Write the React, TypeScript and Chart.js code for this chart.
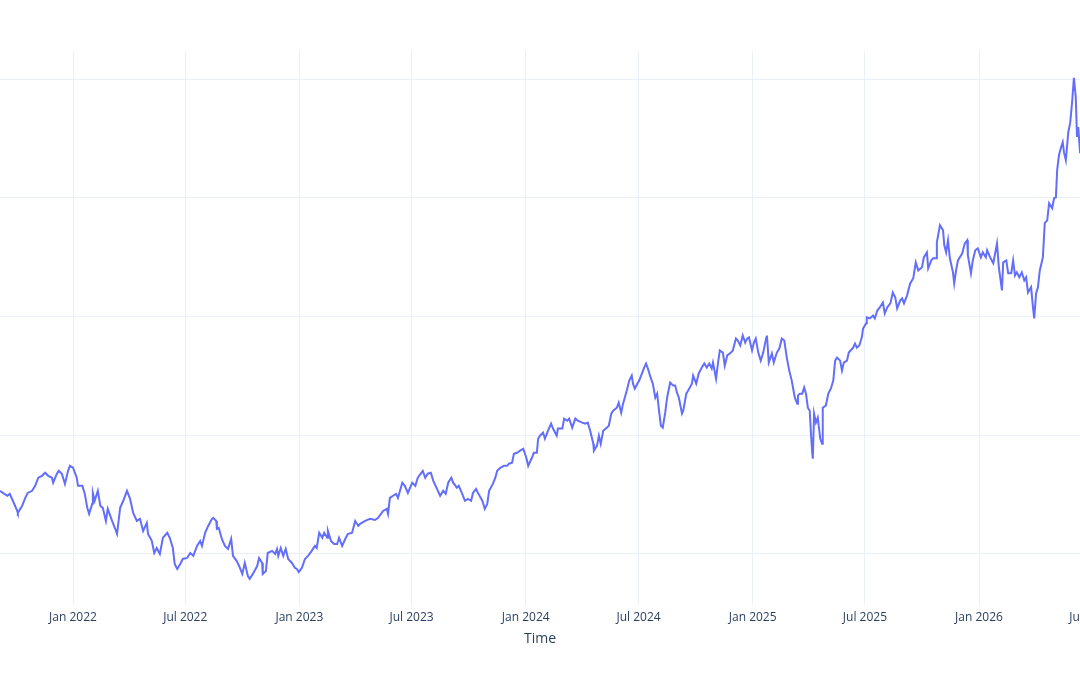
import React, { useEffect, useRef } from 'react';
import { Chart, registerables } from 'chart.js';

Chart.register(...registerables);

// Time values are day offsets from this date
const seriesEpoch = '2022-01-01';

const dayOffsets = [
  -118, -113, -106, -102, -97, -90, -89, -82, -77, -73, -66, -61, -56, -50, -45, -40, -34, -32, -26, -23,
  -18, -13, -8, -5, 0, 6, 8, 15, 19, 23, 26, 31, 32, 35, 40, 44, 48, 53, 56, 63,
  68, 71, 76, 81, 87, 92, 97, 103, 108, 113, 119, 121, 127, 131, 135, 140, 145, 152, 156, 161,
  164, 168, 173, 177, 184, 189, 194, 200, 205, 208, 213, 218, 224, 226, 231, 232, 235, 240, 245, 250,
  255, 258, 264, 268, 273, 277, 282, 285, 290, 297, 300, 305, 306, 311, 314, 321, 326, 329, 331, 335,
  339, 343, 347, 353, 358, 361, 364, 369, 374, 379, 385, 390, 393, 397, 402, 405, 410, 411, 416, 421,
  426, 429, 434, 439, 443, 450, 455, 460, 463, 471, 479, 487, 492, 500, 506, 508, 511, 516, 521, 524,
  531, 535, 540, 547, 552, 556, 564, 568, 572, 577, 581, 587, 592, 597, 601, 605, 610, 613, 619, 622,
  627, 632, 637, 642, 645, 650, 653, 660, 664, 668, 671, 677, 681, 684, 689, 695, 700, 703, 708, 711,
  716, 721, 726, 731, 734, 740, 743, 748, 750, 753, 758, 761, 766, 771, 774, 780, 782, 789, 792, 797,
  800, 805, 810, 814, 821, 826, 830, 834, 839, 840, 845, 848, 851, 855, 861, 864, 868, 871, 877, 880,
  884, 887, 893, 897, 901, 903, 906, 910, 913, 918, 921, 924, 927, 932, 935, 939, 942, 945, 948, 951,
  955, 958, 963, 968, 971, 974, 977, 982, 984, 989, 992, 998, 1000, 1005, 1009, 1014, 1018, 1022, 1026, 1030,
  1032, 1037, 1040, 1043, 1048, 1051, 1055, 1061, 1064, 1069, 1072, 1076, 1080, 1084, 1087, 1090, 1095, 1098, 1101, 1105,
  1109, 1113, 1118, 1119, 1122, 1127, 1130, 1135, 1139, 1143, 1147, 1151, 1155, 1159, 1161, 1164, 1168, 1169, 1172, 1176,
  1179, 1182, 1185, 1188, 1190, 1192, 1193, 1195, 1198, 1201, 1205, 1208, 1209, 1214, 1218, 1222, 1226, 1229, 1232, 1237,
  1240, 1243, 1248, 1251, 1258, 1261, 1264, 1268, 1272, 1274, 1279, 1280, 1285, 1290, 1293, 1297, 1301, 1306, 1309, 1313,
  1318, 1322, 1326, 1329, 1334, 1337, 1340, 1345, 1350, 1355, 1359, 1363, 1369, 1372, 1377, 1379, 1384, 1387, 1392, 1393,
  1398, 1403, 1405, 1408, 1411, 1414, 1419, 1421, 1424, 1427, 1434, 1438, 1442, 1443, 1448, 1451, 1455, 1459, 1464, 1467,
  1472, 1474, 1479, 1484, 1487, 1490, 1493, 1498, 1500, 1505, 1508, 1513, 1516, 1519, 1522, 1526, 1530, 1534, 1537, 1540,
  1545, 1548, 1550, 1553, 1556, 1559, 1564, 1567, 1571, 1574, 1579, 1582, 1585, 1587, 1590, 1593, 1596, 1598, 1601, 1605,
  1608, 1611, 1614, 1617, 1619, 1621, 1624,
];

const values = [
  126.6, 125.7, 124.5, 125.3, 122.4, 118.1, 117.3, 120.3, 123.6, 125.7, 126.6, 128.7, 132.1, 132.9, 134.2, 132.9, 132.1, 130.0, 133.8, 135.0,
  133.8, 129.5, 135.0, 137.1, 136.3, 132.1, 128.7, 128.7, 125.3, 119.4, 116.9, 121.1, 125.7, 122.4, 126.6, 120.3, 119.4, 113.9, 119.0, 113.9,
  110.6, 108.4, 119.4, 122.4, 126.6, 123.2, 117.3, 113.9, 114.8, 109.7, 113.1, 108.4, 105.5, 100.4, 102.5, 100.0, 106.8, 108.9, 106.8, 102.5,
  95.8, 93.7, 95.8, 97.9, 98.3, 100.4, 99.2, 103.4, 105.5, 103.4, 108.9, 111.8, 114.8, 115.2, 113.9, 110.6, 111.0, 106.3, 103.4, 102.1,
  106.3, 99.2, 97.0, 94.9, 91.6, 96.2, 90.7, 89.5, 91.6, 94.9, 98.3, 96.2, 91.6, 92.8, 100.4, 101.3, 100.0, 102.1, 99.2, 102.5,
  99.2, 102.1, 97.9, 96.2, 94.1, 93.7, 92.4, 94.1, 97.9, 99.2, 101.3, 103.4, 102.5, 108.9, 106.8, 108.9, 106.8, 109.7, 105.5, 104.2,
  104.2, 106.8, 103.4, 106.3, 108.4, 108.9, 113.9, 111.8, 112.7, 113.9, 114.8, 114.3, 115.2, 118.1, 119.0, 116.9, 123.6, 124.5, 125.3, 123.6,
  130.0, 128.7, 125.7, 130.0, 128.7, 132.1, 135.0, 132.1, 133.8, 134.2, 130.8, 127.4, 124.5, 126.6, 125.3, 130.0, 132.1, 130.0, 127.9, 128.7,
  125.7, 122.4, 123.2, 122.4, 125.7, 127.4, 125.7, 122.4, 119.0, 121.1, 126.6, 129.5, 132.1, 135.0, 136.3, 137.1, 137.1, 138.0, 138.4, 142.2,
  142.6, 143.5, 144.3, 140.5, 137.1, 140.5, 142.6, 142.6, 148.5, 149.8, 151.1, 148.5, 151.9, 154.9, 152.8, 149.8, 152.8, 152.8, 157.0, 156.1,
  157.0, 153.2, 157.0, 156.1, 155.3, 154.9, 155.3, 151.9, 146.4, 143.5, 145.6, 149.8, 146.4, 151.9, 153.2, 154.0, 159.1, 160.3, 161.6, 163.7,
  159.5, 163.3, 168.8, 173.0, 175.1, 171.7, 169.6, 171.7, 173.0, 176.4, 178.5, 180.2, 178.1, 173.8, 171.7, 165.8, 167.5, 160.3, 154.0, 153.2,
  159.5, 165.8, 172.2, 170.9, 170.9, 167.9, 165.8, 159.1, 160.3, 167.5, 168.8, 171.7, 175.1, 171.7, 176.0, 178.5, 180.2, 178.5, 180.2, 178.1,
  180.6, 173.8, 180.2, 185.7, 184.8, 179.3, 183.6, 184.8, 185.7, 190.7, 189.9, 187.8, 192.0, 189.0, 190.7, 191.2, 185.7, 189.0, 190.7, 184.8,
  181.4, 184.8, 191.2, 192.0, 180.6, 184.4, 180.6, 184.8, 186.5, 190.7, 189.9, 182.7, 177.2, 173.0, 170.1, 165.8, 163.3, 166.7, 167.5, 167.5,
  170.1, 167.5, 161.6, 160.3, 150.6, 142.6, 140.1, 159.1, 155.3, 157.4, 148.5, 146.4, 161.6, 162.5, 167.5, 169.6, 173.0, 181.4, 182.7, 181.4,
  177.2, 180.6, 181.4, 184.8, 186.9, 188.6, 186.9, 187.8, 191.2, 194.9, 197.1, 199.6, 199.2, 200.4, 199.2, 202.5, 203.8, 205.9, 201.3, 203.8,
  205.5, 210.1, 208.0, 203.4, 206.8, 207.6, 205.5, 208.9, 213.9, 216.1, 222.8, 219.4, 220.7, 224.9, 227.0, 220.3, 223.6, 224.5, 224.5, 231.2,
  238.4, 236.3, 230.0, 227.0, 232.1, 224.5, 218.6, 213.9, 219.4, 223.6, 226.6, 230.8, 232.1, 225.8, 218.2, 223.6, 227.9, 228.7, 224.9, 227.0,
  224.9, 227.9, 224.9, 222.4, 226.6, 230.8, 220.7, 211.0, 222.8, 223.6, 218.2, 218.2, 223.6, 217.3, 218.6, 216.5, 218.6, 215.2, 216.5, 210.1,
  212.3, 203.8, 199.2, 209.7, 212.3, 219.4, 224.9, 239.3, 240.5, 247.7, 245.6, 249.8, 250.2, 261.6, 268.0, 270.9, 273.4, 269.2, 265.8, 277.7,
  281.5, 289.9, 300.5, 292.4, 275.6, 279.8, 268.8,
];

const tickDates = [
  '2022-01-01', '2022-07-01', '2023-01-01', '2023-07-01', '2024-01-01',
  '2024-07-01', '2025-01-01', '2025-07-01', '2026-01-01', '2026-07-01',
];
const tickLabels = [
  'Jan 2022', 'Jul 2022', 'Jan 2023', 'Jul 2023', 'Jan 2024',
  'Jul 2024', 'Jan 2025', 'Jul 2025', 'Jan 2026', 'Jul 2026',
];
const gridValues = [100, 150, 200, 250, 300];
const xAxisTitle = 'Time';

const DAY_MS = 86400000;
const toDay = (iso: string) => Math.round((Date.parse(iso) - Date.parse(seriesEpoch)) / DAY_MS);

const TEXT = '#2a3f5f';
const GRID = '#ebf0f8';
const LINE = '#636efa';
const FONT = '"Open Sans", verdana, arial, sans-serif';

export default function App() {
  const ref = useRef<HTMLCanvasElement | null>(null);

  useEffect(() => {
    if (!ref.current) return;
    const tickDays = tickDates.map(toDay);
    const chart = new Chart(ref.current, {
      type: 'line',
      data: {
        datasets: [
          {
            data: dayOffsets.map((d, i) => ({ x: d, y: values[i] })),
            borderColor: LINE,
            borderWidth: 2,
            pointRadius: 0,
            tension: 0,
            fill: false,
          },
        ],
      },
      options: {
        responsive: false,
        animation: false,
        layout: { padding: { top: 51, left: 0, right: 0, bottom: 28 } },
        plugins: { legend: { display: false }, tooltip: { enabled: false } },
        scales: {
          x: {
            type: 'linear',
            min: -214.5,
            max: 1720.6,
            afterBuildTicks: (s: any) => {
              s.ticks = tickDays.map((v) => ({ value: v }));
            },
            grid: { color: GRID, lineWidth: 1, drawTicks: false },
            border: { display: false },
            ticks: {
              autoSkip: false,
              maxRotation: 0,
              padding: 5.4,
              color: TEXT,
              font: { family: FONT, size: 12 },
              callback: (v: any) => {
                const k = tickDays.indexOf(Number(v));
                return k >= 0 ? tickLabels[k] : '';
              },
            },
            title: {
              display: true,
              text: xAxisTitle,
              color: TEXT,
              font: { family: FONT, size: 14 },
              padding: { top: 0, bottom: 0 },
            },
          },
          y: {
            type: 'linear',
            min: 78.5,
            max: 311.8,
            afterBuildTicks: (s: any) => {
              s.ticks = gridValues.map((v) => ({ value: v }));
            },
            afterFit: (s: any) => {
              s.width = 0;
            },
            grid: { color: GRID, lineWidth: 1, drawTicks: false },
            border: { display: false },
            ticks: { display: false },
          },
        },
      },
    } as any);
    return () => chart.destroy();
  }, []);

  return (
    <div
      style={{
        position: 'fixed',
        left: 0,
        top: 0,
        width: 1080,
        height: 675,
        overflow: 'hidden',
        background: '#ffffff',
      }}
    >
      <canvas
        ref={ref}
        width={1200}
        height={675}
        style={{ position: 'absolute', left: -60, top: 0 }}
      />
    </div>
  );
}
